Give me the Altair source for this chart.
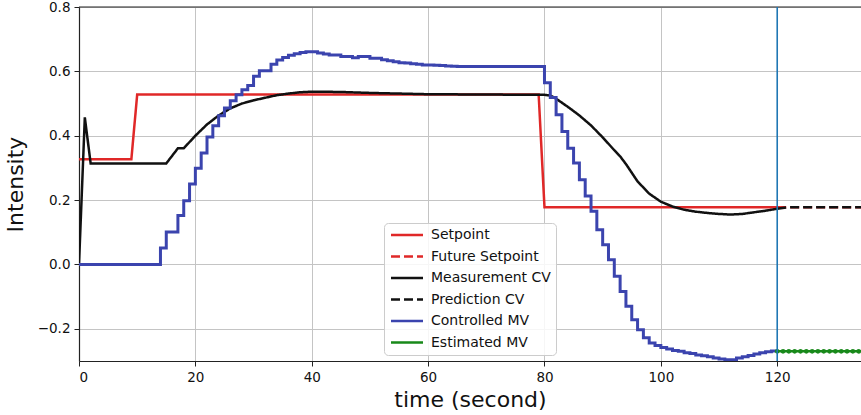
import altair as alt
import pandas as pd

# Setpoint history and its future continuation
sp_t = [0, 9, 10, 79, 80, 120]
sp_v = [0.327, 0.327, 0.528, 0.528, 0.178, 0.178]
fsp_t = [120, 135]
fsp_v = [0.178, 0.178]

# Measured controlled variable and its prediction
cv_t = [0, 1, 2, 15, 17, 18, 20, 22, 24, 26, 28, 30, 32, 34, 36, 38, 40, 45, 50,
        55, 60, 70, 80, 81, 82, 84, 86, 88, 90, 92, 93, 94, 96, 98, 100, 102, 104,
        106, 108, 110, 112, 114, 116, 118, 120]
cv_v = [0.0, 0.457, 0.314, 0.314, 0.361, 0.361, 0.400, 0.435, 0.463, 0.485, 0.500,
        0.510, 0.518, 0.526, 0.531, 0.535, 0.537, 0.536, 0.533, 0.531, 0.529, 0.528,
        0.527, 0.525, 0.515, 0.490, 0.463, 0.432, 0.395, 0.355, 0.336, 0.312, 0.258,
        0.220, 0.195, 0.180, 0.170, 0.164, 0.160, 0.157, 0.155, 0.157, 0.162, 0.167,
        0.173]
pcv_t = [120, 122, 135]
pcv_v = [0.173, 0.178, 0.178]

# Manipulated variable (held between control moves)
mv_t = [0, 14, 15, 17, 18, 19, 20, 21, 22, 23, 24, 25, 26, 27, 28, 29, 30, 31, 33,
        34, 35, 36, 37, 38, 39, 41, 42, 43, 45, 47, 48, 50, 52, 53, 54, 55, 56, 57,
        58, 59, 61, 62, 63, 64, 65, 80, 81, 82, 83, 84, 85, 86, 87, 88, 89, 90, 91,
        92, 93, 94, 95, 96, 97, 98, 99, 100, 101, 102, 103, 104, 105, 106, 107, 108,
        109, 110, 111, 112, 113, 114, 115, 116, 117, 118, 119, 120]
mv_v = [0.0, 0.051, 0.101, 0.152, 0.198, 0.250, 0.299, 0.346, 0.396, 0.431, 0.462,
        0.486, 0.509, 0.527, 0.543, 0.556, 0.585, 0.602, 0.622, 0.635, 0.643, 0.650,
        0.655, 0.659, 0.661, 0.657, 0.654, 0.651, 0.646, 0.642, 0.646, 0.641, 0.636,
        0.633, 0.630, 0.627, 0.626, 0.624, 0.622, 0.620, 0.619, 0.618, 0.617, 0.616,
        0.615, 0.565, 0.519, 0.465, 0.413, 0.361, 0.315, 0.263, 0.213, 0.165, 0.108,
        0.061, 0.015, -0.037, -0.084, -0.130, -0.172, -0.203, -0.228, -0.244, -0.252,
        -0.258, -0.263, -0.267, -0.270, -0.274, -0.277, -0.281, -0.284, -0.287,
        -0.291, -0.294, -0.296, -0.296, -0.291, -0.287, -0.283, -0.278, -0.274,
        -0.271, -0.269, -0.268]

# Estimated future manipulated variable
emv_t = [120, 121, 122, 123, 124, 125, 126, 127, 128, 129, 130, 131, 132, 133, 134, 135]
emv_v = [-0.27, -0.27, -0.27, -0.27, -0.27, -0.27, -0.27, -0.27, -0.27, -0.27,
         -0.27, -0.27, -0.27, -0.27, -0.27, -0.27]

now_t = 120

series = ["Setpoint", "Future Setpoint", "Measurement CV", "Prediction CV",
          "Controlled MV", "Estimated MV"]
colors = ["#e02828", "#e02828", "#111111", "#111111", "#3b44ae", "#18891a"]
dashes = [[1, 0], [9, 4], [1, 0], [9, 4], [1, 0], [1, 0]]


def frame(t, v, name):
    return pd.DataFrame({"t": t, "v": v, "series": name})


sp_df = pd.concat([frame(sp_t, sp_v, "Setpoint"), frame(fsp_t, fsp_v, "Future Setpoint")])
cv_df = pd.concat([frame(cv_t, cv_v, "Measurement CV"), frame(pcv_t, pcv_v, "Prediction CV")])
mv_df = frame(mv_t, mv_v, "Controlled MV")
emv_df = frame(emv_t, emv_v, "Estimated MV")

font = "DejaVu Sans"

x_enc = alt.X("t:Q", title="time (second)",
              scale=alt.Scale(domain=[0, 134.4], nice=False, zero=False),
              axis=alt.Axis(values=[0, 20, 40, 60, 80, 100, 120], format="d"))
y_enc = alt.Y("v:Q", title="Intensity",
              scale=alt.Scale(domain=[-0.3, 0.8], nice=False, zero=False),
              axis=alt.Axis(values=[-0.2, 0.0, 0.2, 0.4, 0.6, 0.8], format=".1f"))
color_enc = alt.Color("series:N", scale=alt.Scale(domain=series, range=colors),
                      sort=series, title=None)
dash_enc = alt.StrokeDash("series:N", scale=alt.Scale(domain=series, range=dashes),
                          sort=series, title=None)

enc = dict(x=x_enc, y=y_enc, color=color_enc, strokeDash=dash_enc, detail="series:N")

sp_layer = alt.Chart(sp_df).mark_line(strokeWidth=2.5, clip=True).encode(**enc)
cv_layer = alt.Chart(cv_df).mark_line(strokeWidth=2.5, clip=True).encode(**enc)
mv_layer = alt.Chart(mv_df).mark_line(strokeWidth=3, interpolate="step-after",
                                      clip=True).encode(**enc)
emv_layer = alt.Chart(emv_df).mark_line(
    strokeWidth=2.5, clip=True,
    point=alt.OverlayMarkDef(size=22, filled=True, color="#18891a", clip=True),
).encode(**enc)

top_spine = alt.Chart(pd.DataFrame({"v": [0.8]})).mark_rule(
    color="#222222", strokeWidth=1.2).encode(y=alt.Y("v:Q"))
now_rule = alt.Chart(pd.DataFrame({"t": [now_t]})).mark_rule(
    color="#1f77b4", strokeWidth=1.6).encode(x=alt.X("t:Q"))

chart = alt.layer(sp_layer, cv_layer, mv_layer, emv_layer, top_spine, now_rule).properties(
    width=782, height=354,
    autosize=alt.AutoSizeParams(type="none"),
    padding={"left": 79, "top": 7, "right": 0, "bottom": 54},
).configure_view(
    strokeWidth=0
).configure_axis(
    labelFont=font, titleFont=font, labelFontSize=13.5, titleFontSize=22,
    titleFontWeight="normal", labelColor="#111111", titleColor="#111111",
    domainColor="#222222", domainWidth=1.2, tickColor="#222222", tickSize=5,
    tickWidth=1, labelPadding=4, gridColor="#c4c4c4", gridWidth=1,
).configure_axisX(
    titlePadding=6
).configure_axisY(
    titlePadding=10
).configure_legend(
    orient="none", legendX=305, legendY=216,
    symbolType="M-1,0H5.4", symbolSize=100, symbolStrokeWidth=2.5,
    labelFont=font, labelFontSize=14, labelColor="#111111", labelOffset=28,
    fillColor="rgba(255,255,255,0.85)", strokeColor="#cccccc", cornerRadius=4,
    padding=5, rowPadding=7.5,
)

chart.save("out.html", embed_options={"renderer": "svg", "actions": False})
